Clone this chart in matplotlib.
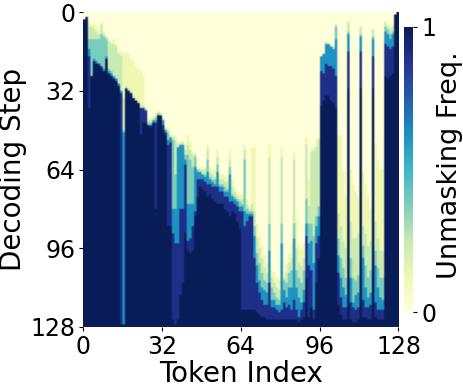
import numpy as np
import matplotlib
matplotlib.use('Agg')
import matplotlib.pyplot as plt

# frequency band values, from pale yellow to navy
levels = [0.12, 0.24, 0.38, 0.62, 0.9, 1.0]

# decoding step at which each token column enters the band
onset_pale = [3,2,4,5,5,6,7,4,8,10,11,12,11,13,16,16,
              17,16,17,19,20,22,23,24,26,39,43,43,43,41,40,41,
              43,47,47,50,50,50,53,53,52,54,50,53,57,57,63,63,
              63,63,54,63,64,64,56,66,66,67,67,56,68,71,73,74,
              74,54,76,79,55,55,86,91,95,99,102,54,105,106,108,109,
              55,105,102,98,94,57,84,94,96,94,51,68,55,55,52,51,
              18,17,12,13,13,14,5,50,50,65,75,4,64,70,73,75,
              6,65,70,75,80,7,53,60,64,64,4,5,6,5,1,0]
onset_light = [3,2,6,6,7,8,9,5,9,10,12,13,13,14,17,18,
               35,30,31,32,34,35,36,38,38,39,44,44,43,42,41,41,
               43,47,48,50,51,52,54,53,53,56,54,56,58,58,64,64,
               64,64,56,65,66,67,59,68,68,69,69,60,71,73,75,76,
               76,56,78,80,78,81,92,96,100,104,106,59,108,110,112,113,
               59,108,106,102,100,60,96,102,103,100,54,79,57,56,55,52,
               18,17,12,13,14,14,5,82,87,93,96,4,85,92,92,90,
               6,87,90,95,93,7,85,92,97,97,4,6,7,6,1,0]
onset_teal = [3,2,11,11,11,11,11,9,10,11,23,24,26,27,29,32,
              48,31,32,33,35,36,37,39,39,40,45,45,44,43,41,42,
              44,48,49,51,52,66,55,54,54,58,58,60,63,59,64,65,
              66,66,60,67,68,68,62,70,70,71,72,63,74,75,76,77,
              78,60,80,81,81,87,98,102,106,109,110,86,112,114,116,117,
              86,109,110,106,105,86,105,108,110,105,76,86,86,91,83,79,
              18,17,13,13,14,15,6,92,100,104,108,8,100,108,109,107,
              9,95,103,108,105,10,97,104,108,108,6,7,9,8,1,0]
onset_blue = [3,2,15,26,19,20,21,22,23,18,24,25,26,27,29,32,
              49,31,32,33,35,36,37,39,39,40,46,46,44,44,42,42,
              44,48,52,51,80,80,55,54,54,60,78,78,78,63,65,65,
              66,67,65,68,69,70,65,71,71,73,73,66,75,76,77,79,
              79,81,82,82,82,91,103,109,112,113,114,97,117,117,119,119,
              94,113,116,112,112,92,112,116,118,113,86,94,93,102,87,83,
              18,17,13,13,14,15,11,99,108,112,115,9,108,118,115,114,
              10,100,112,116,114,11,103,112,116,117,8,9,11,9,1,0]
onset_dark = [3,2,18,26,20,21,21,22,24,19,25,26,27,28,30,33,
              127,31,32,33,35,36,37,39,39,40,46,46,45,45,42,42,
              46,49,54,53,90,94,94,80,80,62,93,92,87,81,68,68,
              68,69,70,70,71,71,71,73,73,75,75,77,77,78,79,81,
              81,87,85,83,83,100,110,114,117,119,119,110,120,120,121,122,
              121,118,120,119,121,117,121,124,121,118,91,103,105,121,94,91,
              24,25,21,22,22,23,26,106,116,120,120,16,118,120,121,120,
              16,117,120,120,119,18,118,121,121,121,13,14,15,14,1,0]
onset_navy = [3,2,39,26,20,21,22,23,24,19,25,26,27,28,30,127,
              127,31,32,33,35,36,37,50,45,45,46,47,45,80,42,42,
              48,50,87,87,125,127,125,115,110,90,97,98,97,83,75,71,
              72,73,75,74,76,77,78,78,78,80,81,83,81,82,85,88,
              121,121,121,121,121,121,122,123,124,124,125,125,125,125,125,125,
              125,125,125,125,125,125,125,126,125,124,108,124,120,125,110,100,
              38,36,34,34,36,37,39,119,123,125,125,31,125,126,126,125,
              31,124,124,125,125,31,124,125,125,125,26,27,26,25,1,0]

ticks = [0, 32, 64, 96, 128]

freq = np.zeros((128, 128))
onsets = [onset_pale, onset_light, onset_teal, onset_blue, onset_dark, onset_navy]
for level, onset in zip(levels, onsets):
    for col, row in enumerate(onset):
        freq[row:, col] = level

fig = plt.figure(figsize=(4.64, 3.88), dpi=100)
ax = fig.add_axes([83/464, 61/388, 315.5/464, 315/388])
im = ax.imshow(freq, cmap='YlGnBu', vmin=0, vmax=1, aspect='auto',
               extent=[0, 128, 128, 0], interpolation='antialiased')
for s in ax.spines.values():
    s.set_visible(False)
ax.set_xticks(ticks)
ax.set_yticks(ticks)
ax.set_xticklabels(ticks)
ax.set_yticklabels(ticks)
ax.tick_params(labelsize=17, length=3, width=0.8, pad=2.5)
ax.set_xlabel('Token Index', fontsize=20, labelpad=1)
ax.set_ylabel('Decoding Step', fontsize=20)
ax.yaxis.set_label_coords(-0.178, 0.5)

cax = fig.add_axes([404/464, 76/388, 9.5/464, 285/388])
cb = fig.colorbar(im, cax=cax)
cb.outline.set_visible(False)
cb.set_ticks([0, 1])
cb.set_ticklabels(['0', '1'])
cb.ax.tick_params(labelsize=17, length=3, width=0.8, pad=2.5)
cb.set_label('Unmasking Freq.', fontsize=19.5)
cb.ax.yaxis.set_label_coords(3.45, 0.516)

fig.savefig('out.png', dpi=100)
